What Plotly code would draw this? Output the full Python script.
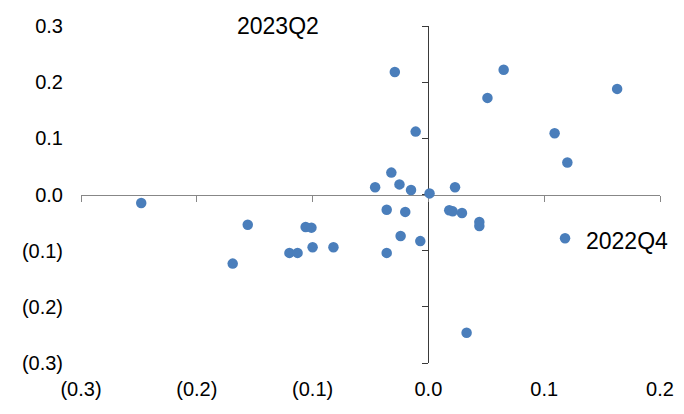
import plotly.graph_objects as go

# Data
x_vals = [-0.029, 0.065, 0.163, 0.051, -0.011, 0.109, 0.120, -0.032, -0.046, -0.025,
          -0.015, 0.001, 0.023, -0.248, -0.156, -0.106, -0.101, -0.169, -0.120, -0.113,
          -0.100, -0.082, -0.036, -0.020, 0.018, 0.021, 0.029, 0.044, 0.044, -0.024,
          -0.007, -0.036, 0.118, 0.033]
y_vals = [0.218, 0.222, 0.188, 0.172, 0.112, 0.109, 0.057, 0.039, 0.013, 0.018,
          0.008, 0.002, 0.013, -0.015, -0.054, -0.058, -0.059, -0.123, -0.104, -0.104,
          -0.094, -0.094, -0.027, -0.031, -0.028, -0.030, -0.033, -0.049, -0.056, -0.074,
          -0.083, -0.104, -0.078, -0.246]

x_ticks = [-0.3, -0.2, -0.1, 0.0, 0.1, 0.2]
x_tick_text = ["(0.3)", "(0.2)", "(0.1)", "0.0", "0.1", "0.2"]
y_ticks = [-0.3, -0.2, -0.1, 0.0, 0.1, 0.2, 0.3]
y_tick_text = ["(0.3)", "(0.2)", "(0.1)", "0.0", "0.1", "0.2", "0.3"]

labels = ["2023Q2", "2022Q4"]
label_x = [-0.130, 0.1715]
label_y = [0.300, -0.083]

x_range = [-0.3, 0.2]
y_range = [-0.3, 0.3]

FONT = "Liberation Sans, Arial, Helvetica, sans-serif"
BLUE = "#4a7ebb"

fig = go.Figure()
fig.add_trace(go.Scatter(
    x=x_vals, y=y_vals, mode="markers",
    marker=dict(color=BLUE, size=10.5, line=dict(width=0)),
    xaxis="x", yaxis="y", showlegend=False, hoverinfo="x+y", cliponaxis=False,
))
# empty trace so the label-only overlay axes are drawn
fig.add_trace(go.Scatter(x=[], y=[], xaxis="x2", yaxis="y2", showlegend=False))

x_zero_pos = (0 - y_range[0]) / (y_range[1] - y_range[0])
y_zero_pos = (0 - x_range[0]) / (x_range[1] - x_range[0])

# page body has an 8px default margin, so the figure is sized to fit the window
fig.update_layout(
    width=676, height=406,
    margin=dict(l=73, r=24, t=18, b=51, autoexpand=False),
    paper_bgcolor="white", plot_bgcolor="white",
    font=dict(family=FONT, color="black", size=20),
    xaxis=dict(range=x_range, anchor="free", position=x_zero_pos, side="bottom",
               showgrid=False, zeroline=False, showline=True, linecolor="#878787",
               linewidth=1.3, ticks="outside", ticklen=6, tickcolor="#878787",
               tickwidth=1.3, tickvals=x_ticks, showticklabels=False, automargin=False,
               layer="below traces", fixedrange=True),
    yaxis=dict(range=y_range, anchor="free", position=y_zero_pos, side="left",
               showgrid=False, zeroline=False, showline=True, linecolor="#3a3a3a",
               linewidth=1.3, ticks="outside", ticklen=6, tickcolor="#3a3a3a",
               tickwidth=1.3, tickvals=y_ticks, showticklabels=False, automargin=False,
               layer="below traces", fixedrange=True),
    xaxis2=dict(range=x_range, overlaying="x", anchor="free", position=0, side="bottom",
                showgrid=False, zeroline=False, showline=False, ticks="", automargin=False,
                tickvals=x_ticks, ticktext=x_tick_text, ticklabelstandoff=12,
                tickfont=dict(size=20, family=FONT, color="black")),
    yaxis2=dict(range=y_range, overlaying="y", anchor="free", position=0, side="left",
                showgrid=False, zeroline=False, showline=False, ticks="", automargin=False,
                tickvals=y_ticks, ticktext=y_tick_text, ticklabelstandoff=18,
                tickfont=dict(size=20, family=FONT, color="black")),
)

for t, lx, ly in zip(labels, label_x, label_y):
    fig.add_annotation(x=lx, y=ly, xref="x", yref="y", text=t, showarrow=False,
                       font=dict(size=23, family=FONT, color="black"),
                       xanchor="center", yanchor="middle")

fig.write_html("out.html")
